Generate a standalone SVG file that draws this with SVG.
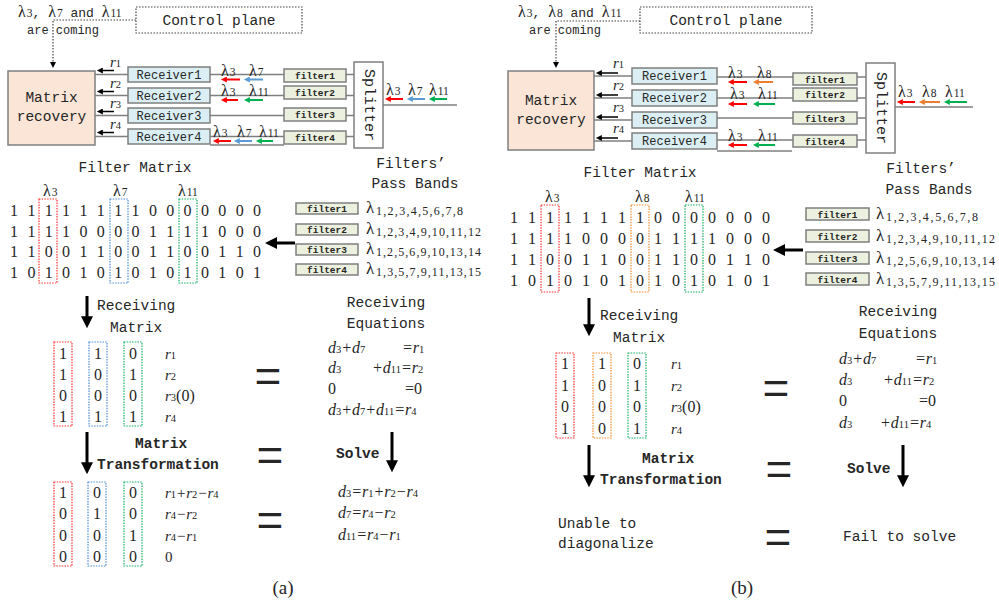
<svg xmlns="http://www.w3.org/2000/svg" width="999" height="604" viewBox="0 0 999 604">
<style>
text{fill:#262626}
.mo{font-family:"Liberation Mono","DejaVu Sans Mono",monospace}
.se{font-family:"Liberation Serif","DejaVu Serif",serif}
.f14{font-size:14.5px}
.f12{font-size:12px}
.f13{font-size:13px}
.ff{font-size:9.5px;font-weight:bold;text-anchor:middle}
.bd{font-weight:bold}
.mid{text-anchor:middle}
.dg{font-size:16px;text-anchor:middle}
.it{font-style:italic}
.eq{font-size:16px;font-style:italic}
.rl{font-size:15px;font-style:italic}
.sb{font-size:10.5px;font-style:normal}
.up{font-style:normal}
.lm{font-size:16px}
.ls{font-size:11.5px}
.pb{font-size:12px}
.eqs{font-family:"Liberation Sans","DejaVu Sans",sans-serif;font-size:46px;text-anchor:middle}
.rec{fill:#DAEEF3;stroke:#7f7f7f;stroke-width:1.5}
.fil{fill:#EBF1DE;stroke:#7f7f7f;stroke-width:1.5}
.mr{fill:#FBE5D6;stroke:#7f7f7f;stroke-width:1.5}
.spl{fill:#fff;stroke:#7f7f7f;stroke-width:1.5}
.wire{stroke:#7f7f7f;stroke-width:1.5;fill:none}
.dk{stroke:#444;stroke-width:1.2;stroke-dasharray:1.5 1.5;fill:none}
.cr{stroke:#ff3030;stroke-width:1.2;stroke-dasharray:1.5 1.2;fill:none}
.cb{stroke:#4a8ad6;stroke-width:1.2;stroke-dasharray:1.5 1.2;fill:none}
.cg{stroke:#12b060;stroke-width:1.2;stroke-dasharray:1.5 1.2;fill:none}
.co{stroke:#f08a2a;stroke-width:1.2;stroke-dasharray:1.5 1.2;fill:none}
.ar{stroke:#ff0000;stroke-width:2;marker-end:url(#hr)}
.ab{stroke:#5b9bd5;stroke-width:2;marker-end:url(#hb)}
.ag{stroke:#00b050;stroke-width:2;marker-end:url(#hg)}
.ao{stroke:#ed7d31;stroke-width:2;marker-end:url(#ho)}
.ak{stroke:#000;stroke-width:1.5;marker-end:url(#hk)}
.big{stroke:#000;stroke-width:3;marker-end:url(#hbig)}
</style>
<defs>
<marker id="hr" viewBox="0 0 10 10" refX="1" refY="5" markerWidth="7" markerHeight="6" orient="auto" markerUnits="userSpaceOnUse"><path d="M0,0L10,5L0,10z" fill="#ff0000"/></marker>
<marker id="hb" viewBox="0 0 10 10" refX="1" refY="5" markerWidth="7" markerHeight="6" orient="auto" markerUnits="userSpaceOnUse"><path d="M0,0L10,5L0,10z" fill="#5b9bd5"/></marker>
<marker id="hg" viewBox="0 0 10 10" refX="1" refY="5" markerWidth="7" markerHeight="6" orient="auto" markerUnits="userSpaceOnUse"><path d="M0,0L10,5L0,10z" fill="#00b050"/></marker>
<marker id="ho" viewBox="0 0 10 10" refX="1" refY="5" markerWidth="7" markerHeight="6" orient="auto" markerUnits="userSpaceOnUse"><path d="M0,0L10,5L0,10z" fill="#ed7d31"/></marker>
<marker id="hk" viewBox="0 0 10 10" refX="1" refY="5" markerWidth="7" markerHeight="6" orient="auto" markerUnits="userSpaceOnUse"><path d="M0,0L10,5L0,10z" fill="#000"/></marker>
<marker id="hbig" viewBox="0 0 10 10" refX="1" refY="5" markerWidth="12" markerHeight="12" orient="auto" markerUnits="userSpaceOnUse"><path d="M0,0L10,5L0,10z" fill="#000"/></marker>
</defs>
<rect width="999" height="604" fill="#fff"/>

<!-- ===================== PANEL A ===================== -->
<g id="panel-a">
<g id="a-connectors">
  <path class="dk" d="M136,20H53V62.7" marker-end="url(#hk)"/>
  <line class="wire" x1="95" y1="74.5" x2="128" y2="74.5"/>
  <line class="wire" x1="95" y1="95.5" x2="128" y2="95.5"/>
  <line class="wire" x1="95" y1="115.5" x2="128" y2="115.5"/>
  <line class="wire" x1="95" y1="136.5" x2="128" y2="136.5"/>
  <line class="ak" x1="114" y1="70.5" x2="102.3" y2="70.5"/>
  <line class="ak" x1="114" y1="91.5" x2="102.3" y2="91.5"/>
  <line class="ak" x1="114" y1="111.5" x2="102.3" y2="111.5"/>
  <line class="ak" x1="114" y1="132.5" x2="102.3" y2="132.5"/>
  <line class="wire" x1="210" y1="74.5" x2="354" y2="74.5"/>
  <line class="wire" x1="210" y1="95.5" x2="354" y2="95.5"/>
  <line class="wire" x1="210" y1="115.5" x2="354" y2="115.5"/>
  <line class="wire" x1="210" y1="136.5" x2="354" y2="136.5"/>
  <line class="wire" x1="210" y1="145" x2="284" y2="145"/>
  <line class="wire" x1="383" y1="105" x2="457" y2="105"/>
  <line class="ar" x1="403" y1="99" x2="390.3" y2="99"/>
  <line class="ab" x1="425" y1="99" x2="412.3" y2="99"/>
  <line class="ag" x1="447" y1="99" x2="434.3" y2="99"/>
  <line class="ar" x1="240" y1="79.5" x2="226.3" y2="79.5"/>
  <line class="ab" x1="263" y1="79.5" x2="249.3" y2="79.5"/>
  <line class="ar" x1="238" y1="100" x2="226.3" y2="100"/>
  <line class="ag" x1="263" y1="100" x2="249.3" y2="100"/>
  <line class="ar" x1="231" y1="141" x2="218.3" y2="141"/>
  <line class="ab" x1="252" y1="141" x2="239.3" y2="141"/>
  <line class="ag" x1="273" y1="141" x2="261.3" y2="141"/>
  <line class="big" x1="295" y1="243" x2="275.8" y2="243"/>
  <line class="big" x1="87" y1="296" x2="87" y2="317.4"/>
  <line class="big" x1="392" y1="432" x2="392" y2="461.4"/>
  <line class="big" x1="87" y1="432" x2="87" y2="463.4"/>
</g>
<g id="a-labels-top">
  <text class="se" x="18" y="17"><tspan class="lm">λ</tspan><tspan class="ls" dx="1">3</tspan><tspan class="mo f13">, </tspan><tspan class="lm">λ</tspan><tspan class="ls" dx="1">7</tspan><tspan class="mo f13"> and </tspan><tspan class="lm">λ</tspan><tspan class="ls" dx="1">11</tspan></text>
  <text class="mo f12" x="27" y="34">are coming</text>
  <text class="se rl" x="110" y="67">r<tspan class="sb">1</tspan></text>
  <text class="se rl" x="110" y="88">r<tspan class="sb">2</tspan></text>
  <text class="se rl" x="110" y="108">r<tspan class="sb">3</tspan></text>
  <text class="se rl" x="110" y="129">r<tspan class="sb">4</tspan></text>
  <text class="se lm" x="386" y="95">λ<tspan class="ls" dx="1">3</tspan></text>
  <text class="se lm" x="408" y="95">λ<tspan class="ls" dx="1">7</tspan></text>
  <text class="se lm" x="429" y="95">λ<tspan class="ls" dx="1">11</tspan></text>
  <text class="se lm" x="221" y="76">λ<tspan class="ls" dx="1">3</tspan></text>
  <text class="se lm" x="249" y="76">λ<tspan class="ls" dx="1">7</tspan></text>
  <text class="se lm" x="221" y="95.5">λ<tspan class="ls" dx="1">3</tspan></text>
  <text class="se lm" x="249" y="95.5">λ<tspan class="ls" dx="1">11</tspan></text>
  <text class="se lm" x="213" y="137">λ<tspan class="ls" dx="1">3</tspan></text>
  <text class="se lm" x="237" y="137">λ<tspan class="ls" dx="1">7</tspan></text>
  <text class="se lm" x="259" y="137">λ<tspan class="ls" dx="1">11</tspan></text>
</g>
<g id="a-control-plane">
  <rect class="dk" x="136" y="7" width="166" height="26"/>
  <text class="mo f14 mid" x="219" y="25">Control plane</text>
</g>
<g id="a-matrix-recovery">
  <rect class="mr" x="8" y="71" width="87" height="74"/>
  <text class="mo f14 mid" x="51.5" y="102">Matrix</text>
  <text class="mo f14 mid" x="51.5" y="121">recovery</text>
</g>
<g id="a-receiver1"><rect class="rec" x="128" y="67" width="82" height="15"/><text class="mo f12 mid" x="169" y="78.5">Receiver1</text></g>
<g id="a-receiver2"><rect class="rec" x="128" y="88" width="82" height="15"/><text class="mo f12 mid" x="169" y="99.5">Receiver2</text></g>
<g id="a-receiver3"><rect class="rec" x="128" y="108" width="82" height="15"/><text class="mo f12 mid" x="169" y="119.5">Receiver3</text></g>
<g id="a-receiver4"><rect class="rec" x="128" y="129" width="82" height="15"/><text class="mo f12 mid" x="169" y="140.5">Receiver4</text></g>
<g id="a-filter1"><rect class="fil" x="284" y="69" width="62" height="13"/><text class="mo ff" x="315" y="79">filter1</text></g>
<g id="a-filter2"><rect class="fil" x="284" y="86" width="62" height="13"/><text class="mo ff" x="315" y="96">filter2</text></g>
<g id="a-filter3"><rect class="fil" x="284" y="108" width="62" height="13"/><text class="mo ff" x="315" y="118">filter3</text></g>
<g id="a-filter4"><rect class="fil" x="284" y="131" width="62" height="13"/><text class="mo ff" x="315" y="141">filter4</text></g>
<g id="a-splitter">
  <rect class="spl" x="354" y="62" width="29" height="86"/>
  <text class="mo mid" style="font-size:15px" dominant-baseline="central" transform="translate(368.5,105) rotate(90)">Splitter</text>
</g>
<g id="a-filter-matrix">
  <text class="mo f14 mid" x="135" y="172">Filter Matrix</text>
  <text class="se lm" x="43" y="196">λ<tspan class="ls" dx="1">3</tspan></text>
  <text class="se lm" x="113" y="196">λ<tspan class="ls" dx="1">7</tspan></text>
  <text class="se lm" x="178" y="196">λ<tspan class="ls" dx="1">11</tspan></text>
  <rect class="cr" x="39" y="199" width="18" height="84"/>
  <rect class="cb" x="110" y="199" width="18" height="84"/>
  <rect class="cg" x="179" y="199" width="18" height="84"/>
  <text class="se dg" x="14 31.4 48.7 66.1 83.4 100.8 118.2 135.5 152.9 170.2 187.6 205 222.3 239.7 257" y="216">111111110000000</text>
  <text class="se dg" x="14 31.4 48.7 66.1 83.4 100.8 118.2 135.5 152.9 170.2 187.6 205 222.3 239.7 257" y="236.5">111100001111000</text>
  <text class="se dg" x="14 31.4 48.7 66.1 83.4 100.8 118.2 135.5 152.9 170.2 187.6 205 222.3 239.7 257" y="257">110011001100110</text>
  <text class="se dg" x="14 31.4 48.7 66.1 83.4 100.8 118.2 135.5 152.9 170.2 187.6 205 222.3 239.7 257" y="277.5">101010101010101</text>
</g>
<g id="a-pass-bands">
  <text class="mo f14 mid" x="411" y="168">Filters’</text>
  <text class="mo f14 mid" x="415" y="188">Pass Bands</text>
  <rect class="fil" x="296" y="203" width="62" height="11"/><text class="mo ff" x="327" y="212">filter1</text>
  <rect class="fil" x="296" y="224" width="62" height="11"/><text class="mo ff" x="327" y="233">filter2</text>
  <rect class="fil" x="296" y="244" width="62" height="11"/><text class="mo ff" x="327" y="253">filter3</text>
  <rect class="fil" x="296" y="264" width="62" height="11"/><text class="mo ff" x="327" y="273">filter4</text>
  <text class="se" style="font-size:17px" x="366" y="213">λ</text><text class="se pb" x="376" y="215" textLength="87" lengthAdjust="spacing">1,2,3,4,5,6,7,8</text>
  <text class="se" style="font-size:17px" x="366" y="234">λ</text><text class="se pb" x="376" y="236" textLength="105" lengthAdjust="spacing">1,2,3,4,9,10,11,12</text>
  <text class="se" style="font-size:17px" x="366" y="254">λ</text><text class="se pb" x="376" y="256" textLength="105" lengthAdjust="spacing">1,2,5,6,9,10,13,14</text>
  <text class="se" style="font-size:17px" x="366" y="274">λ</text><text class="se pb" x="376" y="276" textLength="105" lengthAdjust="spacing">1,3,5,7,9,11,13,15</text>
</g>
<g id="a-receiving-matrix">
  <text class="mo f14" x="97" y="310">Receiving</text>
  <text class="mo f14" x="110" y="332">Matrix</text>
  <rect class="cr" x="54" y="342" width="18" height="84"/>
  <rect class="cb" x="89" y="342" width="18" height="84"/>
  <rect class="cg" x="124" y="342" width="18" height="84"/>
  <text class="se dg" x="63 98 133" y="359">110</text>
  <text class="se dg" x="63 98 133" y="380">101</text>
  <text class="se dg" x="63 98 133" y="401">000</text>
  <text class="se dg" x="63 98 133" y="422">111</text>
  <text class="se rl" x="165" y="359">r<tspan class="sb">1</tspan></text>
  <text class="se rl" x="165" y="380">r<tspan class="sb">2</tspan></text>
  <text class="se rl" x="165" y="401">r<tspan class="sb">3</tspan><tspan class="up" style="font-size:16px">(0)</tspan></text>
  <text class="se rl" x="165" y="422">r<tspan class="sb">4</tspan></text>
</g>
<g id="a-equals">
  <text class="eqs" x="268" y="392">=</text>
  <text class="eqs" x="270" y="471">=</text>
  <text class="eqs" x="270" y="536">=</text>
</g>
<g id="a-receiving-equations">
  <text class="mo f14 mid" x="386" y="307">Receiving</text>
  <text class="mo f14 mid" x="386" y="328">Equations</text>
  <text class="se eq" x="328" y="353">d<tspan class="sb">3</tspan>+d<tspan class="sb">7</tspan><tspan x="402">=r</tspan><tspan class="sb">1</tspan></text>
  <text class="se eq" x="328" y="373">d<tspan class="sb">3</tspan><tspan x="372">+d</tspan><tspan class="sb">11</tspan>=r<tspan class="sb">2</tspan></text>
  <text class="se eq" x="328" y="394"><tspan class="up">0</tspan><tspan x="405" class="up">=0</tspan></text>
  <text class="se eq" x="328" y="415">d<tspan class="sb">3</tspan>+d<tspan class="sb">7</tspan>+d<tspan class="sb">11</tspan>=r<tspan class="sb">4</tspan></text>
  <text class="mo f14 bd" x="336" y="458">Solve</text>
</g>
<g id="a-transformation">
  <text class="mo f14 bd" x="135" y="448">Matrix</text>
  <text class="mo f14 bd" x="97" y="469">Transformation</text>
  <rect class="cr" x="54" y="482" width="18" height="84"/>
  <rect class="cb" x="88" y="482" width="18" height="84"/>
  <rect class="cg" x="124" y="482" width="18" height="84"/>
  <text class="se dg" x="63 97 133" y="498">100</text>
  <text class="se dg" x="63 97 133" y="519">010</text>
  <text class="se dg" x="63 97 133" y="541">001</text>
  <text class="se dg" x="63 97 133" y="562">000</text>
  <text class="se rl" x="165" y="498">r<tspan class="sb">1</tspan>+r<tspan class="sb">2</tspan>−r<tspan class="sb">4</tspan></text>
  <text class="se rl" x="165" y="519">r<tspan class="sb">4</tspan>−r<tspan class="sb">2</tspan></text>
  <text class="se rl" x="165" y="541">r<tspan class="sb">4</tspan>−r<tspan class="sb">1</tspan></text>
  <text class="se rl" x="165" y="562"><tspan class="up">0</tspan></text>
  <text class="se eq" x="338" y="497">d<tspan class="sb">3</tspan>=r<tspan class="sb">1</tspan>+r<tspan class="sb">2</tspan>−r<tspan class="sb">4</tspan></text>
  <text class="se eq" x="338" y="518">d<tspan class="sb">7</tspan>=r<tspan class="sb">4</tspan>−r<tspan class="sb">2</tspan></text>
  <text class="se eq" x="338" y="540">d<tspan class="sb">11</tspan>=r<tspan class="sb">4</tspan>−r<tspan class="sb">1</tspan></text>
</g>
<text class="se mid" style="font-size:19px" x="283" y="594">(a)</text>
</g>

<!-- ===================== PANEL B ===================== -->
<g id="panel-b">
<g id="b-connectors">
  <path class="dk" d="M640,21H556V62.7" marker-end="url(#hk)"/>
  <line class="wire" x1="594" y1="76" x2="632" y2="76"/>
  <line class="wire" x1="594" y1="98" x2="632" y2="98"/>
  <line class="wire" x1="594" y1="120" x2="632" y2="120"/>
  <line class="wire" x1="594" y1="141" x2="632" y2="141"/>
  <line class="ak" x1="618" y1="73" x2="601.3" y2="73"/>
  <line class="ak" x1="618" y1="95" x2="601.3" y2="95"/>
  <line class="ak" x1="618" y1="117" x2="601.3" y2="117"/>
  <line class="ak" x1="618" y1="138" x2="601.3" y2="138"/>
  <line class="wire" x1="717" y1="77" x2="866" y2="77"/>
  <line class="wire" x1="717" y1="98" x2="866" y2="98"/>
  <line class="wire" x1="717" y1="118" x2="866" y2="118"/>
  <line class="wire" x1="717" y1="140" x2="866" y2="140"/>
  <line class="wire" x1="717" y1="151" x2="792" y2="151"/>
  <line class="wire" x1="895" y1="107" x2="973" y2="107"/>
  <line class="ar" x1="915" y1="102" x2="902.3" y2="102"/>
  <line class="ao" x1="940" y1="102" x2="924.3" y2="102"/>
  <line class="ag" x1="967" y1="102" x2="949.3" y2="102"/>
  <line class="ar" x1="747" y1="82" x2="733.3" y2="82"/>
  <line class="ao" x1="773" y1="82" x2="758.3" y2="82"/>
  <line class="ar" x1="747" y1="104" x2="733.3" y2="104"/>
  <line class="ag" x1="775" y1="104" x2="758.3" y2="104"/>
  <line class="ar" x1="747" y1="145" x2="733.3" y2="145"/>
  <line class="ag" x1="775" y1="145" x2="758.3" y2="145"/>
  <line class="big" x1="803" y1="250" x2="783.8" y2="250"/>
  <line class="big" x1="589" y1="298" x2="589" y2="325.4"/>
  <line class="big" x1="589" y1="445" x2="589" y2="476.4"/>
  <line class="big" x1="903" y1="445" x2="903" y2="476.4"/>
</g>
<g id="b-labels-top">
  <text class="se" x="518" y="17"><tspan class="lm">λ</tspan><tspan class="ls" dx="1">3</tspan><tspan class="mo f13">, </tspan><tspan class="lm">λ</tspan><tspan class="ls" dx="1">8</tspan><tspan class="mo f13"> and </tspan><tspan class="lm">λ</tspan><tspan class="ls" dx="1">11</tspan></text>
  <text class="mo f12" x="529" y="34">are coming</text>
  <text class="se rl" x="613" y="68">r<tspan class="sb">1</tspan></text>
  <text class="se rl" x="613" y="90">r<tspan class="sb">2</tspan></text>
  <text class="se rl" x="613" y="112">r<tspan class="sb">3</tspan></text>
  <text class="se rl" x="613" y="133">r<tspan class="sb">4</tspan></text>
  <text class="se lm" x="898" y="97">λ<tspan class="ls" dx="1">3</tspan></text>
  <text class="se lm" x="922" y="97">λ<tspan class="ls" dx="1">8</tspan></text>
  <text class="se lm" x="945" y="97">λ<tspan class="ls" dx="1">11</tspan></text>
  <text class="se lm" x="728" y="78">λ<tspan class="ls" dx="1">3</tspan></text>
  <text class="se lm" x="757" y="78">λ<tspan class="ls" dx="1">8</tspan></text>
  <text class="se lm" x="730" y="99">λ<tspan class="ls" dx="1">3</tspan></text>
  <text class="se lm" x="758" y="99">λ<tspan class="ls" dx="1">11</tspan></text>
  <text class="se lm" x="728" y="141">λ<tspan class="ls" dx="1">3</tspan></text>
  <text class="se lm" x="758" y="141">λ<tspan class="ls" dx="1">11</tspan></text>
</g>
<g id="b-control-plane">
  <rect class="dk" x="640" y="7" width="172" height="26"/>
  <text class="mo f14 mid" x="726" y="25">Control plane</text>
</g>
<g id="b-matrix-recovery">
  <rect class="mr" x="508" y="71" width="86" height="79"/>
  <text class="mo f14 mid" x="551" y="105">Matrix</text>
  <text class="mo f14 mid" x="551" y="124">recovery</text>
</g>
<g id="b-receiver1"><rect class="rec" x="632" y="68" width="85" height="16"/><text class="mo f12 mid" x="674.5" y="80">Receiver1</text></g>
<g id="b-receiver2"><rect class="rec" x="632" y="90" width="85" height="16"/><text class="mo f12 mid" x="674.5" y="102">Receiver2</text></g>
<g id="b-receiver3"><rect class="rec" x="632" y="112" width="85" height="16"/><text class="mo f12 mid" x="674.5" y="124">Receiver3</text></g>
<g id="b-receiver4"><rect class="rec" x="632" y="133" width="85" height="16"/><text class="mo f12 mid" x="674.5" y="145">Receiver4</text></g>
<g id="b-filter1"><rect class="fil" x="793" y="73" width="64" height="12"/><text class="mo ff" x="825" y="82.5">filter1</text></g>
<g id="b-filter2"><rect class="fil" x="793" y="88" width="64" height="13"/><text class="mo ff" x="825" y="98">filter2</text></g>
<g id="b-filter3"><rect class="fil" x="793" y="112" width="64" height="12"/><text class="mo ff" x="825" y="121.5">filter3</text></g>
<g id="b-filter4"><rect class="fil" x="793" y="135" width="64" height="12"/><text class="mo ff" x="825" y="144.5">filter4</text></g>
<g id="b-splitter">
  <rect class="spl" x="866" y="63" width="29" height="90"/>
  <text class="mo mid" style="font-size:15px" dominant-baseline="central" transform="translate(880.5,108) rotate(90)">Splitter</text>
</g>
<g id="b-filter-matrix">
  <text class="mo f14 mid" x="640" y="177">Filter Matrix</text>
  <text class="se lm" x="545" y="202">λ<tspan class="ls" dx="1">3</tspan></text>
  <text class="se lm" x="635" y="202">λ<tspan class="ls" dx="1">8</tspan></text>
  <text class="se lm" x="685" y="202">λ<tspan class="ls" dx="1">11</tspan></text>
  <rect class="cr" x="541" y="205" width="18" height="87"/>
  <rect class="co" x="631" y="205" width="18" height="87"/>
  <rect class="cg" x="685" y="205" width="18" height="87"/>
  <text class="se dg" x="514 532 550 568 586 604 622 640 658 676 694 712 730 748 766" y="223">111111110000000</text>
  <text class="se dg" x="514 532 550 568 586 604 622 640 658 676 694 712 730 748 766" y="244">111100001111000</text>
  <text class="se dg" x="514 532 550 568 586 604 622 640 658 676 694 712 730 748 766" y="265">110011001100110</text>
  <text class="se dg" x="514 532 550 568 586 604 622 640 658 676 694 712 730 748 766" y="286">101010101010101</text>
</g>
<g id="b-pass-bands">
  <text class="mo f14 mid" x="921" y="173">Filters’</text>
  <text class="mo f14 mid" x="929" y="194">Pass Bands</text>
  <rect class="fil" x="806" y="208" width="63" height="12"/><text class="mo ff" x="837.5" y="217.5">filter1</text>
  <rect class="fil" x="806" y="230" width="63" height="12"/><text class="mo ff" x="837.5" y="239.5">filter2</text>
  <rect class="fil" x="806" y="252" width="63" height="12"/><text class="mo ff" x="837.5" y="261.5">filter3</text>
  <rect class="fil" x="806" y="273" width="63" height="12"/><text class="mo ff" x="837.5" y="282.5">filter4</text>
  <text class="se" style="font-size:17px" x="876" y="219">λ</text><text class="se pb" x="886" y="221" textLength="92" lengthAdjust="spacing">1,2,3,4,5,6,7,8</text>
  <text class="se" style="font-size:17px" x="876" y="241">λ</text><text class="se pb" x="886" y="243" textLength="109" lengthAdjust="spacing">1,2,3,4,9,10,11,12</text>
  <text class="se" style="font-size:17px" x="876" y="263">λ</text><text class="se pb" x="886" y="265" textLength="109" lengthAdjust="spacing">1,2,5,6,9,10,13,14</text>
  <text class="se" style="font-size:17px" x="876" y="284">λ</text><text class="se pb" x="886" y="286" textLength="109" lengthAdjust="spacing">1,3,5,7,9,11,13,15</text>
</g>
<g id="b-receiving-matrix">
  <text class="mo f14" x="600" y="320">Receiving</text>
  <text class="mo f14" x="613" y="342">Matrix</text>
  <rect class="cr" x="556" y="353" width="18" height="85"/>
  <rect class="co" x="593" y="353" width="18" height="85"/>
  <rect class="cg" x="628" y="353" width="18" height="85"/>
  <text class="se dg" x="565 602 637" y="369">110</text>
  <text class="se dg" x="565 602 637" y="391">101</text>
  <text class="se dg" x="565 602 637" y="412">000</text>
  <text class="se dg" x="565 602 637" y="434">101</text>
  <text class="se rl" x="671" y="369">r<tspan class="sb">1</tspan></text>
  <text class="se rl" x="671" y="391">r<tspan class="sb">2</tspan></text>
  <text class="se rl" x="671" y="412">r<tspan class="sb">3</tspan><tspan class="up" style="font-size:16px">(0)</tspan></text>
  <text class="se rl" x="671" y="434">r<tspan class="sb">4</tspan></text>
</g>
<g id="b-equals">
  <text class="eqs" x="776" y="404">=</text>
  <text class="eqs" x="779" y="485">=</text>
  <text class="eqs" x="778" y="553">=</text>
</g>
<g id="b-receiving-equations">
  <text class="mo f14 mid" x="898" y="316">Receiving</text>
  <text class="mo f14 mid" x="898" y="338">Equations</text>
  <text class="se eq" x="839" y="364">d<tspan class="sb">3</tspan>+d<tspan class="sb">7</tspan><tspan x="915">=r</tspan><tspan class="sb">1</tspan></text>
  <text class="se eq" x="839" y="385">d<tspan class="sb">3</tspan><tspan x="883">+d</tspan><tspan class="sb">11</tspan>=r<tspan class="sb">2</tspan></text>
  <text class="se eq" x="839" y="406"><tspan class="up">0</tspan><tspan x="919" class="up">=0</tspan></text>
  <text class="se eq" x="839" y="428">d<tspan class="sb">3</tspan><tspan x="880">+d</tspan><tspan class="sb">11</tspan>=r<tspan class="sb">4</tspan></text>
  <text class="mo f14 bd" x="847" y="473">Solve</text>
</g>
<g id="b-transformation">
  <text class="mo f14 bd" x="642" y="463">Matrix</text>
  <text class="mo f14 bd" x="600" y="484">Transformation</text>
  <text class="mo f14" x="558" y="528">Unable to</text>
  <text class="mo f14" x="558" y="548">diagonalize</text>
  <text class="mo f14" x="843" y="541">Fail to solve</text>
</g>
<text class="se mid" style="font-size:19px" x="742" y="594">(b)</text>
</g>
</svg>
